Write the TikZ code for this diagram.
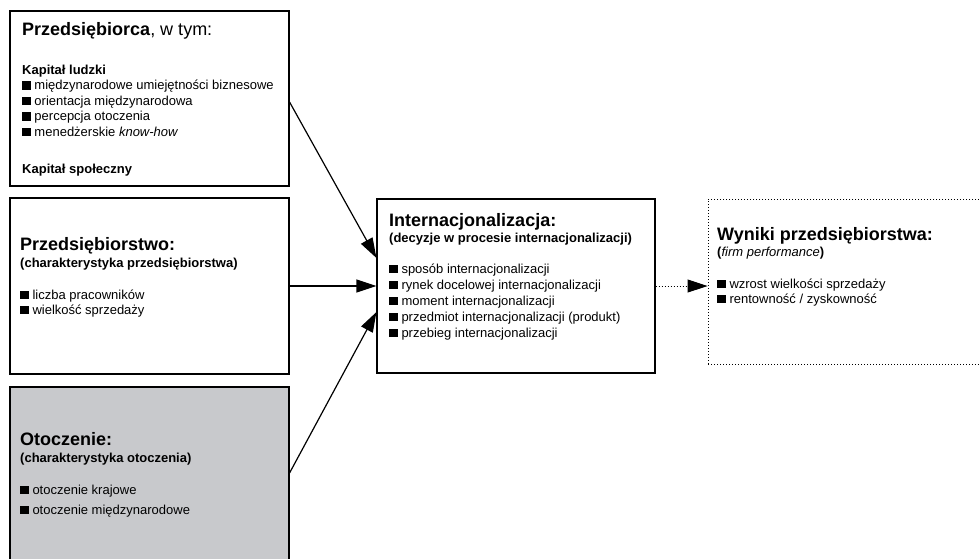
\documentclass[tikz,border=0pt]{standalone}
\usepackage{fontspec}
\setmainfont{Liberation Sans}
\usetikzlibrary{arrows.meta, positioning}
\definecolor{envgray}{RGB}{200,201,204}
\newcommand\sqmark{\rule{8.3pt}{8.3pt}\hspace{4pt}}

\begin{document}
\begin{tikzpicture}[x=1pt,y=-1pt,>={Triangle[length=20pt,width=13pt]},
        box/.style={draw,line width=1.1pt,inner sep=0pt},
        head/.style={anchor=base west,inner sep=0pt,font=\fontsize{18}{20}\selectfont\bfseries},
        sub/.style={anchor=base west,inner sep=0pt,font=\fontsize{13}{15}\selectfont\bfseries},
        item/.style={anchor=base west,inner sep=0pt,font=\fontsize{13}{15}\selectfont},
        link/.style={->,line width=1.2pt},
        dots/.style={line width=0.9pt,dash pattern=on 0.9pt off 2.1pt}]

    \useasboundingbox (0,0) rectangle (979,558);

    % boxes
    \node[box,minimum width=279pt,minimum height=175pt] (pre) at (149.5,98.5) {};
    \node[box,minimum width=279pt,minimum height=176pt] (firm) at (149.5,286) {};
    \node[box,fill=envgray,minimum width=279pt,minimum height=193pt] (env) at (149.5,483.5) {};
    \node[box,minimum width=278pt,minimum height=174pt] (int) at (516,286) {};
    \node[dots,draw,inner sep=0pt,minimum width=287pt,minimum height=165pt] (res) at (851.5,281.5) {};

    % Przedsiebiorca
    \node[head] (pre-t) at (22,35) {Przedsiębiorca\textmd{, w tym:}};
    \node[sub] (pre-h) at (22,74) {Kapitał ludzki};
    \foreach \t [count=\i] in {międzynarodowe umiejętności biznesowe, orientacja międzynarodowa,
            percepcja otoczenia, {menedżerskie \textit{know-how}}}
        \node[item] (pre-\i) at (22,{74+15.5*\i}) {\sqmark\t};
    \node[sub] (pre-s) at (22,173) {Kapitał społeczny};

    % Przedsiebiorstwo
    \node[head] (firm-t) at (20,250) {Przedsiębiorstwo:};
    \node[sub] (firm-s) at (20,267) {(charakterystyka przedsiębiorstwa)};
    \foreach \t [count=\i] in {liczba pracowników, wielkość sprzedaży}
        \node[item] (firm-\i) at (20,{284+15*\i}) {\sqmark\t};

    % Otoczenie
    \node[head] (env-t) at (20,445) {Otoczenie:};
    \node[sub] (env-s) at (20,462) {(charakterystyka otoczenia)};
    \foreach \t [count=\i] in {otoczenie krajowe, otoczenie międzynarodowe}
        \node[item] (env-\i) at (20,{474+20*\i}) {\sqmark\t};

    % Internacjonalizacja
    \node[head] (int-t) at (389,226) {Internacjonalizacja:};
    \node[sub] (int-s) at (389,242) {(decyzje w procesie internacjonalizacji)};
    \foreach \t [count=\i] in {sposób internacjonalizacji, rynek docelowej internacjonalizacji,
            moment internacjonalizacji, przedmiot internacjonalizacji (produkt),
            przebieg internacjonalizacji}
        \node[item] (int-\i) at (389,{257+16*\i}) {\sqmark\t};

    % Wyniki
    \node[head] (res-t) at (717,240) {Wyniki przedsiębiorstwa:};
    \node[sub] (res-s) at (717,256) {(\textmd{\textit{firm performance}})};
    \foreach \t [count=\i] in {wzrost wielkości sprzedaży, rentowność / zyskowność}
        \node[item] (res-\i) at (717,{273+15*\i}) {\sqmark\t};

    \path
    ([yshift=-3.5pt]pre.east) edge[link] ([yshift=28pt]int.west)
    (firm.east) edge[link] (int.west)
    ([yshift=10.5pt]env.east) edge[link] ([yshift=-26pt]int.west)
    (int.east) edge[link,dots] (int.east -| res.west)
    ;
\end{tikzpicture}
\end{document}
